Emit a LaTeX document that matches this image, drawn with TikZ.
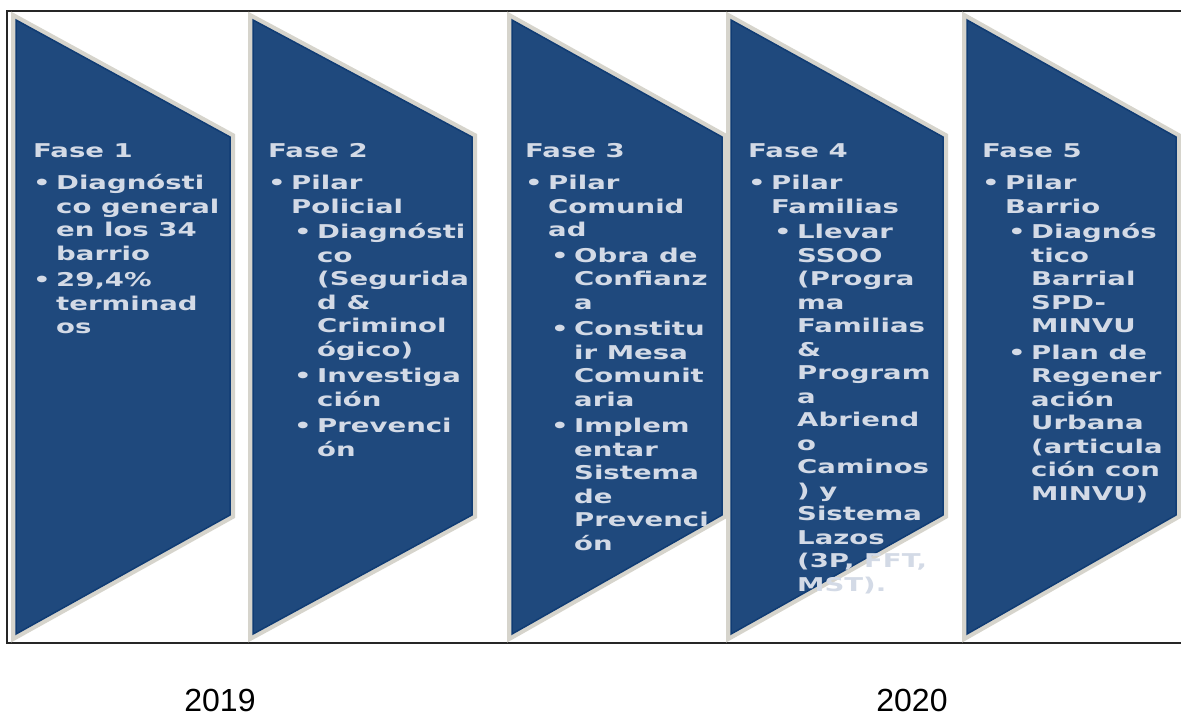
\documentclass[tikz,border=0pt]{standalone}
\usepackage{fontspec}
\setmainfont{Liberation Sans}
\newfontfamily\phasefont[FakeStretch=1.45]{DejaVu Sans}
\definecolor{phaseblue}{HTML}{1F497D}
\definecolor{edgeblue}{HTML}{103C74}
\definecolor{framegray}{HTML}{D6D4CC}
\definecolor{phasetxt}{HTML}{D3DAE6}
\newcommand\phbA[1]{\makebox[23pt][l]{•}#1}
\newcommand\phcA[1]{\hspace*{23pt}#1}
\newcommand\phbB[1]{\hspace*{26pt}\makebox[23pt][l]{•}#1}
\newcommand\phcB[1]{\hspace*{49pt}#1}
\newcommand\phaseshape[2]{%
  \draw[phaseframe] (#1,20) -- (#2,137) -- (#2,515) -- (#1,634) -- cycle;
  \filldraw[phasefill] (#1,20) -- (#2,137) -- (#2,515) -- (#1,634) -- cycle;}
\begin{document}
\begin{tikzpicture}[x=1pt,y=-1pt,
  phaseframe/.style={draw=framegray,line width=10pt,line join=miter},
  phasefill/.style={fill=phaseblue,draw=edgeblue,line width=1.5pt,line join=miter},
  phasetext/.style={anchor=north west,inner sep=0pt,align=left,text=phasetxt,
    font=\phasefont\bfseries\fontsize{19}{23.5}\selectfont},
  year/.style={font=\fontsize{32}{36}\selectfont,text=black,inner sep=0pt}]
\useasboundingbox (0,0) rectangle (1181,717);
\fill[white] (0,0) rectangle (1181,717);
\draw[line width=1.4pt,draw=black!85] (7,11) rectangle (1200,643);
\phaseshape{16}{230}
\phaseshape{253}{472}
\phaseshape{512}{722}
\phaseshape{731}{943}
\phaseshape{967}{1176}

\node[phasetext] (f1) at (33,143) {Fase 1\\[9pt]
\phbA{Diagnósti}\\ \phcA{co general}\\ \phcA{en los 34}\\ \phcA{barrio}\\[3pt]
\phbA{29,4\%}\\ \phcA{terminad}\\ \phcA{os}};

\node[phasetext] (f2) at (268,143) {Fase 2\\[9pt]
\phbA{Pilar}\\ \phcA{Policial}\\[2pt]
\phbB{Diagnósti}\\ \phcB{co}\\ \phcB{(Segurida}\\ \phcB{d \&}\\ \phcB{Criminol}\\ \phcB{ógico)}\\[3pt]
\phbB{Investiga}\\ \phcB{ción}\\[3pt]
\phbB{Prevenci}\\ \phcB{ón}};

\node[phasetext] (f3) at (525,143) {Fase 3\\[9pt]
\phbA{Pilar}\\ \phcA{Comunid}\\ \phcA{ad}\\[2pt]
\phbB{Obra de}\\ \phcB{Confianz}\\ \phcB{a}\\[3pt]
\phbB{Constitu}\\ \phcB{ir Mesa}\\ \phcB{Comunit}\\ \phcB{aria}\\[3pt]
\phbB{Implem}\\ \phcB{entar}\\ \phcB{Sistema}\\ \phcB{de}\\ \phcB{Prevenci}\\ \phcB{ón}};

\node[phasetext] (f4) at (748,143) {Fase 4\\[9pt]
\phbA{Pilar}\\ \phcA{Familias}\\[2pt]
\phbB{Llevar}\\ \phcB{SSOO}\\ \phcB{(Progra}\\ \phcB{ma}\\ \phcB{Familias}\\ \phcB{\&}\\ \phcB{Program}\\ \phcB{a}\\ \phcB{Abriend}\\ \phcB{o}\\ \phcB{Caminos}\\ \phcB{) y}\\ \phcB{Sistema}\\ \phcB{Lazos}\\ \phcB{(3P, FFT,}\\ \phcB{MST).}};

\node[phasetext] (f5) at (982,143) {Fase 5\\[9pt]
\phbA{Pilar}\\ \phcA{Barrio}\\[2pt]
\phbB{Diagnós}\\ \phcB{tico}\\ \phcB{Barrial}\\ \phcB{SPD-}\\ \phcB{MINVU}\\[3pt]
\phbB{Plan de}\\ \phcB{Regener}\\ \phcB{ación}\\ \phcB{Urbana}\\ \phcB{(articula}\\ \phcB{ción con}\\ \phcB{MINVU)}};

\node[year] (y1) at (220,700) {2019};
\node[year] (y2) at (912,700) {2020};
\end{tikzpicture}
\end{document}
